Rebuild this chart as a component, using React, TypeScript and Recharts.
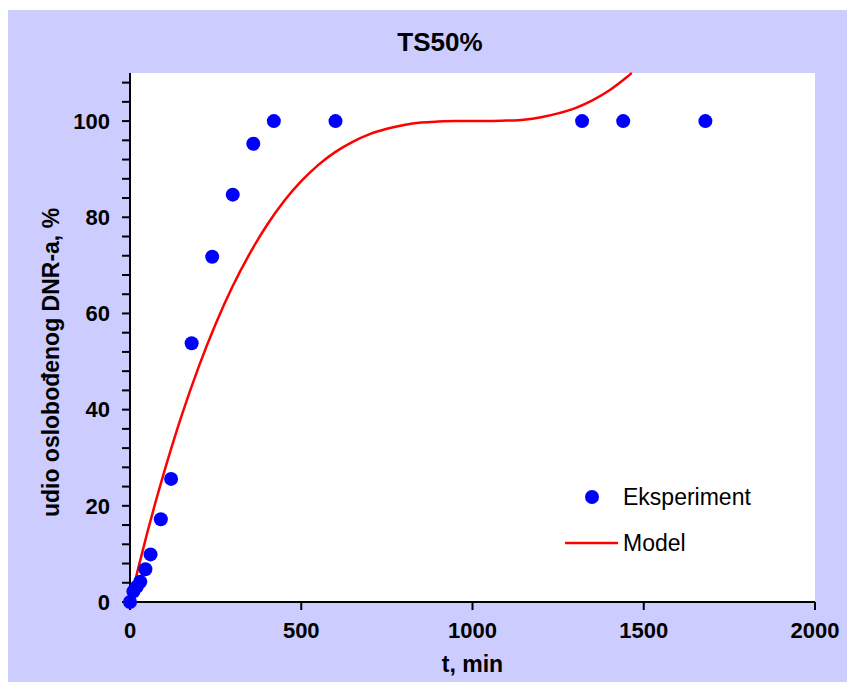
import { ComposedChart, Line, Scatter, XAxis, YAxis, CartesianGrid, Legend, Label } from 'recharts'

// experimental release points (t in min, % released)
const expTime = [0, 10, 20, 30, 45, 60, 90, 120, 180, 240, 300, 360, 420, 600, 1320, 1440, 1680]
const expValue = [0, 2.2, 3.2, 4.2, 6.8, 9.9, 17.2, 25.6, 53.8, 71.8, 84.7, 95.3, 100, 100, 100, 100, 100]

// model curve
const modelTime = [0, 25, 50, 75, 100, 150, 200, 250, 300, 350, 400, 450, 500, 550, 600, 650, 700, 750, 800, 850, 900, 950, 1000, 1050, 1100, 1150, 1200, 1250, 1300, 1350, 1400, 1450, 1465]
const modelValue = [0, 7.3, 14.3, 20.9, 27.1, 38.6, 48.8, 57.8, 65.7, 72.5, 78.4, 83.4, 87.5, 90.9, 93.6, 95.7, 97.3, 98.4, 99.2, 99.7, 99.9, 100, 100, 100, 100.1, 100.3, 100.8, 101.6, 102.7, 104.3, 106.4, 109.1, 110]

const xTicks = [0, 500, 1000, 1500, 2000]
const yTicks = [0, 4, 8, 12, 16, 20, 24, 28, 32, 36, 40, 44, 48, 52, 56, 60, 64, 68, 72, 76, 80, 84, 88, 92, 96, 100, 104, 108]
const yLabelled = [0, 20, 40, 60, 80, 100]

const expData = expTime.map((t, i) => ({ t, v: expValue[i] }))
const modelData = modelTime.map((t, i) => ({ t, v: modelValue[i] }))

const FONT = '"Liberation Sans", Arial, sans-serif'
const tickStyle = { fill: '#000', fontSize: 22, fontWeight: 'bold', fontFamily: FONT }
const axisStroke = { stroke: '#000', strokeWidth: 2 }

function LegendBox({ payload }: any) {
  return (
    <div style={{ fontFamily: FONT, fontSize: 23, color: '#000' }}>
      {(payload ?? []).map((e: any) => (
        <div key={e.value} style={{ display: 'flex', alignItems: 'center', height: 46 }}>
          <svg width={53} height={20}>
            {e.type === 'circle'
              ? <circle cx={27} cy={10} r={7} fill={e.color} />
              : <line x1={0} x2={53} y1={10} y2={10} stroke={e.color} strokeWidth={2.5} />}
          </svg>
          <span style={{ marginLeft: 5 }}>{e.value}</span>
        </div>
      ))}
    </div>
  )
}

export default function App() {
  return (
    <div style={{ position: 'relative', width: 843, height: 672, marginLeft: -1, marginTop: 2, background: '#ccccff' }}>
      <div style={{ position: 'absolute', left: 333, width: 200, top: 17, textAlign: 'center', fontFamily: FONT, fontSize: 26, fontWeight: 'bold' }}>
        TS50%
      </div>
      <ComposedChart width={843} height={672} margin={{ top: 63, right: 35, bottom: 40, left: 63 }}>
        <CartesianGrid horizontal={false} vertical={false} fill="#fff" fillOpacity={1} />
        <XAxis
          type="number"
          dataKey="t"
          domain={[0, 2000]}
          ticks={xTicks}
          interval={0}
          height={40}
          tickSize={8}
          tickMargin={12}
          tick={tickStyle}
          axisLine={axisStroke}
          tickLine={axisStroke}
        >
          <Label
            content={(p: any) => {
              const vb = p.viewBox
              return (
                <text x={vb.x + vb.width / 2} y={vb.y + 62} textAnchor="middle" dominantBaseline="central"
                  style={{ fontFamily: FONT, fontSize: 23, fontWeight: 'bold', fill: '#000' }}>
                  t, min
                </text>
              )
            }}
          />
        </XAxis>
        <XAxis xAxisId="top" orientation="top" type="number" domain={[0, 2000]} height={0} tick={false} tickLine={false} axisLine={axisStroke} />
        <YAxis
          type="number"
          domain={[0, 110]}
          ticks={yTicks}
          interval={0}
          width={60}
          tickSize={8}
          tickMargin={12}
          tick={tickStyle}
          tickFormatter={(v: number) => (yLabelled.includes(v) ? String(v) : '')}
          axisLine={axisStroke}
          tickLine={axisStroke}
        >
          <Label
            content={(p: any) => {
              const vb = p.viewBox
              const cx = vb.x - 19
              const cy = vb.y + vb.height / 2 + 25
              return (
                <text x={cx} y={cy} transform={`rotate(-90 ${cx} ${cy})`} textAnchor="middle" dominantBaseline="central"
                  style={{ fontFamily: FONT, fontSize: 23, fontWeight: 'bold', fill: '#000' }}>
                  udio oslobođenog DNR-a, %
                </text>
              )
            }}
          />
        </YAxis>
        <YAxis yAxisId="right" orientation="right" type="number" domain={[0, 110]} width={0} tick={false} tickLine={false} axisLine={axisStroke} />
        <Line
          data={modelData}
          dataKey="v"
          name="Model"
          type="monotone"
          stroke="#ff0000"
          strokeWidth={2.5}
          dot={false}
          legendType="line"
          isAnimationActive={false}
        />
        <Scatter
          data={expData}
          dataKey="v"
          name="Eksperiment"
          fill="#0000ff"
          legendType="circle"
          shape={(p: any) => <circle cx={p.cx} cy={p.cy} r={7} fill="#0000ff" />}
          isAnimationActive={false}
        />
        <Legend
          layout="vertical"
          align="center"
          verticalAlign="middle"
          content={<LegendBox />}
          wrapperStyle={{ left: 558, top: 464, width: 'auto', height: 'auto' }}
        />
      </ComposedChart>
    </div>
  )
}
